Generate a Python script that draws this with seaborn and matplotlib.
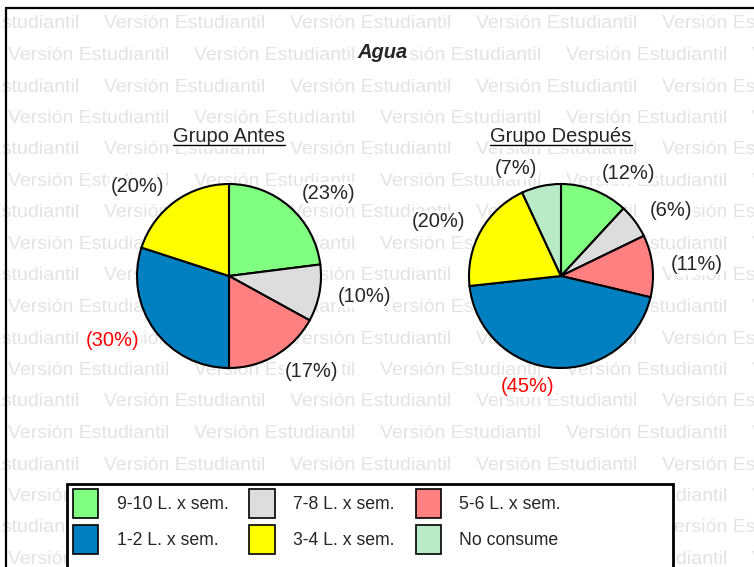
import numpy as np
import matplotlib
matplotlib.use("Agg")
import matplotlib.pyplot as plt
from matplotlib.patches import Patch, Rectangle
from matplotlib.lines import Line2D
import seaborn as sns

# data
categorias = ["9-10 L. x sem.", "7-8 L. x sem.", "5-6 L. x sem.",
              "1-2 L. x sem.", "3-4 L. x sem.", "No consume"]
antes = [23, 10, 17, 30, 20, 0]
despues = [12, 6, 11, 45, 20, 7]
grupos = ["Grupo Antes", "Grupo Después"]
colores = ["#80FF80", "#DDDDDD", "#FF8080", "#0080C0", "#FFFF00", "#B9EBC6"]

sns.set_style("white")
plt.rcParams["font.family"] = ["Liberation Sans", "DejaVu Sans"]

W, H = 754, 567
fig = plt.figure(figsize=(W / 100, H / 100), dpi=100)
fig.patch.set_facecolor("white")
blanco = dict(facecolor="white", edgecolor="none", pad=1)

# watermark
wm = "Versión Estudiantil"
for i, yy in enumerate(np.arange(24, 580, 31.5)):
    x0 = -82 if i % 2 == 0 else 8
    for xx in np.arange(x0, W + 10, 186):
        fig.text(xx / W, 1 - yy / H, wm, fontsize=14, color="#E3E3E3",
                 ha="left", va="center", zorder=-10)

# outer frame (only left/top visible)
fig.add_artist(Line2D([6 / W, 6 / W], [-0.1, 1 - 8 / H], color="black", lw=1.6))
fig.add_artist(Line2D([6 / W, 1.1], [1 - 8 / H, 1 - 8 / H], color="black", lw=1.6))

fig.text(383 / W, 1 - 52 / H, "Agua", fontsize=14.5, fontweight="bold",
         fontstyle="italic", ha="center", va="center", bbox=blanco)

r = 92
centros = [229, 561]
titulos = []
for cx, vals, nombre in zip(centros, [antes, despues], grupos):
    size = 3.2 * r
    ax = fig.add_axes([(cx - size / 2) / W, (H - 276 - size / 2) / H, size / W, size / H])
    idx = [k for k, v in enumerate(vals) if v > 0]
    v = [vals[k] for k in idx]
    labs = [f"({vals[k]}%)" for k in idx]
    wedges, texts = ax.pie(v, colors=[colores[k] for k in idx], labels=labs,
                           startangle=90, counterclock=False, labeldistance=1.2,
                           wedgeprops=dict(edgecolor="black", linewidth=1.5),
                           textprops=dict(fontsize=14.5))
    ax.set_xlim(-1.6, 1.6)
    ax.set_ylim(-1.6, 1.6)
    ax.set_aspect("equal")
    ax.axis("off")
    for t in texts:
        t.set_bbox(blanco)
    texts[int(np.argmax(v))].set_color("red")
    t = fig.text(cx / W, 1 - 137 / H, nombre, fontsize=14.5, ha="center",
                 va="center", bbox=blanco)
    titulos.append(t)

# legend box
fig.add_artist(Rectangle((67 / W, -0.05), (673 - 67) / W, 0.05 + 1 - 484 / H,
                         transform=fig.transFigure, facecolor="white",
                         edgecolor="black", lw=2, zorder=1))
handles = [Patch(facecolor=c, edgecolor="black", linewidth=1.2) for c in colores]
orden = [0, 3, 1, 4, 2, 5]
leg = fig.legend([handles[k] for k in orden], [categorias[k] for k in orden],
                 ncol=3, loc="upper left", bbox_to_anchor=(73 / W, 1 - 489 / H),
                 fontsize=12.7, frameon=False, handlelength=1.42,
                 handleheight=2.15, handletextpad=1.05, borderpad=0,
                 labelspacing=0.42, columnspacing=1.2, borderaxespad=0)
leg.set_zorder(2)

# underline the group titles
fig.canvas.draw()
ren = fig.canvas.get_renderer()
for t in titulos:
    bb = t.get_window_extent(ren).transformed(fig.transFigure.inverted())
    fig.add_artist(Line2D([bb.x0, bb.x1], [bb.y0 + 1.5 / H, bb.y0 + 1.5 / H],
                          color="black", lw=1.0, zorder=10))

fig.savefig("out.png", dpi=100)
